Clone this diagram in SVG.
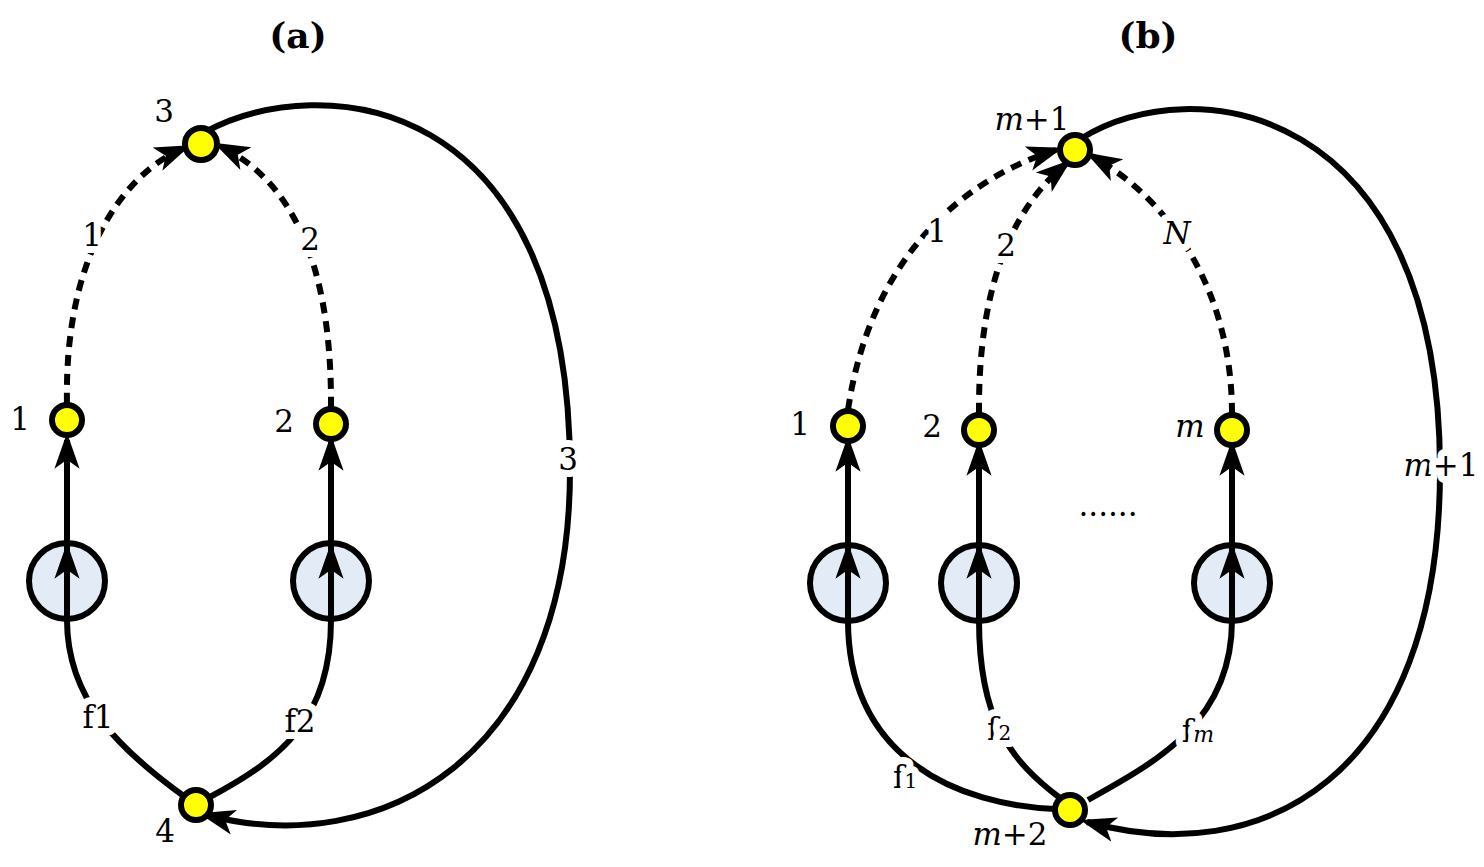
<svg xmlns="http://www.w3.org/2000/svg" width="1484" height="867" viewBox="0 0 1484 867">
<style>
text{font-family:"DejaVu Serif","Liberation Serif",serif;font-size:31px;fill:#000;text-anchor:middle}
.t{font-weight:bold;font-size:36px}
.lb{stroke:#fff;stroke-width:14px;stroke-linejoin:round;paint-order:stroke;}
.s{fill:none;stroke:#000;stroke-width:6}
.d{fill:none;stroke:#000;stroke-width:6;stroke-dasharray:11 8}
.n{fill:#ffff00;stroke:#000;stroke-width:6}
.b{fill:#e3ebf6;stroke:#000;stroke-width:6}
</style>
<defs>
<marker id="ar" viewBox="0 0 10 10" refX="8" refY="5" markerWidth="36" markerHeight="36" orient="auto" markerUnits="userSpaceOnUse">
<path d="M0,1.5 L10,5 L0,8.5 L2.5,5 Z" fill="#000"/>
</marker>
</defs>
<text class="t" x="298" y="48">(a)</text>
<text class="t" x="1148" y="48">(b)</text>
<g id="bigcircles">
<circle id="ca1" class="b" cx="67" cy="581" r="38"/>
<circle id="ca2" class="b" cx="331" cy="581" r="38"/>
<circle id="cb1" class="b" cx="848" cy="583" r="38"/>
<circle id="cb2" class="b" cx="979" cy="583" r="38"/>
<circle id="cbm" class="b" cx="1232" cy="583" r="38"/>
</g>
<g id="connectors">
<path class="s" d="M67,620 L67,440" marker-end="url(#ar)"/>
<path class="s" d="M67,620 L67,550" marker-end="url(#ar)"/>
<path class="s" d="M331,620 L331,442" marker-end="url(#ar)"/>
<path class="s" d="M331,620 L331,550" marker-end="url(#ar)"/>
<path class="d" d="M67,404 C64,260 120,175 184,148" marker-end="url(#ar)"/>
<path class="d" d="M331,408 C332,260 290,180 220,146" marker-end="url(#ar)"/>
<path class="s" d="M67,620 C67,700 120,750 185,797"/>
<path class="s" d="M331,620 C331,720 280,760 208,798"/>
<path class="s" d="M205,132 C320,70 570,90 570,470 C570,760 380,860 206,815" marker-end="url(#ar)"/>
<path class="s" d="M848,620 L848,443" marker-end="url(#ar)"/>
<path class="s" d="M848,620 L848,550" marker-end="url(#ar)"/>
<path class="s" d="M979,620 L979,447" marker-end="url(#ar)"/>
<path class="s" d="M979,620 L979,550" marker-end="url(#ar)"/>
<path class="s" d="M1232,620 L1232,447" marker-end="url(#ar)"/>
<path class="s" d="M1232,620 L1232,550" marker-end="url(#ar)"/>
<path class="d" d="M848,410 C870,260 960,180 1056,150" marker-end="url(#ar)"/>
<path class="d" d="M979,414 C978,290 1010,210 1066,164" marker-end="url(#ar)"/>
<path class="d" d="M1232,414 C1232,290 1170,200 1092,156" marker-end="url(#ar)"/>
<path class="s" d="M848,620 C848,760 960,805 1055,809"/>
<path class="s" d="M979,620 C979,720 1010,760 1060,798"/>
<path class="s" d="M1232,620 C1232,720 1160,760 1088,800"/>
<path class="s" d="M1082,138 C1190,70 1440,100 1440,470 C1440,780 1260,870 1087,822" marker-end="url(#ar)"/>
</g>
<g id="edgelabels">
<text class="lb" x="92" y="246">1</text>
<text class="lb" x="310" y="250">2</text>
<text class="lb" x="568" y="470">3</text>
<text class="lb" x="98" y="728">f1</text>
<text class="lb" x="300" y="732">f2</text>
<text class="lb" x="937" y="242">1</text>
<text class="lb" x="1006" y="256">2</text>
<text class="lb" x="1177" y="244" font-style="italic">N</text>
<text class="lb" x="1441" y="476"><tspan font-style="italic">m</tspan>+1</text>
<text class="lb" x="905" y="788">f<tspan font-size="20">1</tspan></text>
<text class="lb" x="999" y="740">f<tspan font-size="20">2</tspan></text>
<text class="lb" x="1198" y="742">f<tspan font-size="22" font-style="italic">m</tspan></text>
<text x="1108" y="516">......</text>
</g>
<g id="a1"><circle class="n" cx="67" cy="420" r="15"/><text x="20" y="430">1</text></g>
<g id="a2"><circle class="n" cx="331" cy="424" r="15"/><text x="284" y="432">2</text></g>
<g id="a3"><circle class="n" cx="201" cy="144" r="16"/><text x="164" y="122">3</text></g>
<g id="a4"><circle class="n" cx="196" cy="805" r="15"/><text x="165" y="842">4</text></g>
<g id="b1"><circle class="n" cx="848" cy="426" r="15"/><text x="800" y="435">1</text></g>
<g id="b2"><circle class="n" cx="979" cy="430" r="15"/><text x="932" y="437">2</text></g>
<g id="bm"><circle class="n" cx="1232" cy="430" r="15"/><text x="1190" y="437" font-style="italic">m</text></g>
<g id="bm1"><circle class="n" cx="1075" cy="150" r="15"/><text x="1032" y="130"><tspan font-style="italic">m</tspan>+1</text></g>
<g id="bm2"><circle class="n" cx="1070" cy="810" r="15"/><text x="1010" y="845"><tspan font-style="italic">m</tspan>+2</text></g>
</svg>
